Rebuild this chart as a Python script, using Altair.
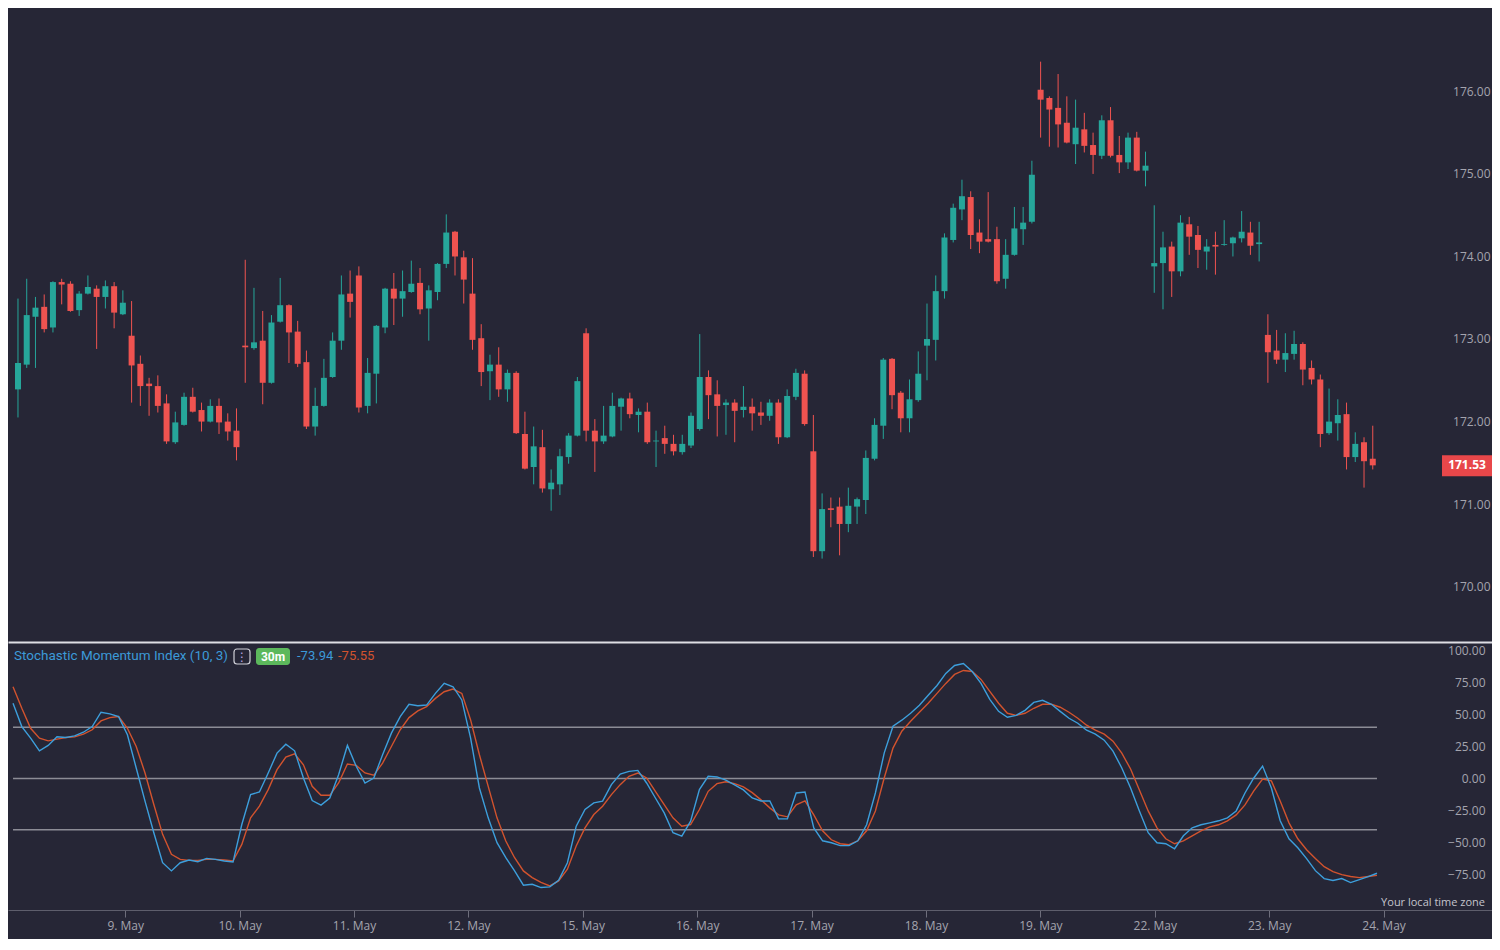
import altair as alt
import pandas as pd

# ---- candle data (30m bars) ----
open_ = [172.45,172.75,173.33,173.45,173.20,173.75,173.73,173.41,173.61,173.67,
         173.57,173.70,173.36,173.10,172.76,172.52,172.49,172.28,171.81,172.02,
         172.36,172.20,172.06,172.25,172.06,171.95,172.98,172.95,173.04,172.53,
         173.27,173.47,173.15,172.78,172.00,172.25,172.60,173.04,173.61,173.83,
         172.25,172.64,173.20,173.67,173.55,173.63,173.74,173.43,173.63,173.97,
         174.36,174.05,173.61,173.07,172.67,172.75,172.45,172.65,171.91,171.51,
         171.75,171.24,171.30,171.63,171.89,173.13,171.95,171.82,171.88,172.24,
         172.34,172.14,172.18,171.82,171.86,171.79,171.69,171.77,171.97,172.60,
         172.39,172.26,172.29,172.20,172.24,172.17,172.13,172.29,171.87,172.36,
         172.64,171.70,170.49,171.01,171.03,170.82,171.03,171.11,171.61,172.01,
         172.82,172.41,172.10,172.32,172.98,173.05,173.64,174.26,174.63,174.78,
         174.35,174.27,174.27,173.79,174.08,174.39,174.48,176.08,175.98,175.86,
         175.68,175.42,175.60,175.41,175.28,175.71,175.29,175.20,175.50,175.10,
         173.94,173.98,174.18,173.88,174.45,174.32,174.12,174.20,174.20,174.22,
         174.28,174.35,174.21,173.11,172.92,172.81,172.88,173.00,172.71,172.57,
         171.92,172.04,172.15,171.63,171.81,171.61]
high = [173.55,173.79,173.57,173.60,173.76,173.79,173.76,173.64,173.83,173.71,
        173.77,173.75,173.65,173.52,172.86,172.59,172.62,172.39,172.18,172.41,
        172.47,172.29,172.33,172.34,172.16,172.22,174.02,173.68,173.40,173.35,
        173.80,173.48,173.28,172.92,172.47,172.82,173.14,173.83,173.89,173.94,
        172.83,173.23,173.68,173.86,173.89,174.01,173.92,173.71,173.98,174.57,
        174.37,174.13,174.04,173.24,172.87,172.96,172.69,172.67,172.18,172.00,
        171.96,171.48,171.73,171.92,172.60,173.19,172.09,172.25,172.41,172.35,
        172.41,172.22,172.29,171.95,172.01,171.90,171.90,172.17,173.12,172.68,
        172.56,172.33,172.33,172.49,172.34,172.30,172.33,172.33,172.45,172.70,
        172.68,172.14,171.19,171.14,171.14,171.26,171.14,171.71,172.10,172.83,
        172.83,172.43,172.57,172.91,173.49,173.83,174.34,174.70,174.99,174.85,
        174.51,174.84,174.42,174.27,174.66,174.66,175.22,176.42,176.00,176.27,
        176.00,175.96,175.80,175.56,175.77,175.87,175.52,175.56,175.57,175.33,
        174.68,174.36,174.24,174.56,174.54,174.43,174.27,174.36,174.50,174.30,
        174.61,174.48,174.48,173.36,173.17,173.13,173.16,173.02,172.80,172.63,
        172.46,172.33,172.29,171.93,171.87,172.01]
low = [172.11,172.71,172.71,173.14,173.14,173.48,173.39,173.34,173.60,172.94,
       173.43,173.19,173.35,172.29,172.25,172.13,172.17,171.79,171.79,172.01,
       172.17,171.94,172.05,171.91,171.83,171.59,172.53,172.93,172.27,172.52,
       173.26,172.77,172.72,171.97,171.89,172.24,172.59,172.93,173.32,172.17,
       172.16,172.28,173.13,173.23,173.33,173.62,173.36,173.04,173.53,173.92,
       173.83,173.49,172.93,172.49,172.32,172.36,172.30,171.91,171.48,171.30,
       171.20,170.98,171.17,171.55,171.88,171.82,171.45,171.79,171.87,171.95,
       172.10,171.93,171.79,171.51,171.67,171.65,171.66,171.74,171.95,172.09,
       171.88,171.90,171.81,172.11,171.95,172.02,172.07,171.79,171.86,172.32,
       172.01,170.42,170.40,170.78,170.44,170.72,170.82,170.94,171.59,171.85,
       172.21,171.93,171.93,172.30,172.56,172.80,173.55,174.23,174.50,174.15,
       174.10,174.23,173.73,173.67,174.07,174.20,174.46,175.50,175.39,175.38,
       175.43,175.18,175.32,175.06,175.24,175.26,175.07,175.12,175.09,174.91,
       173.62,173.42,173.57,173.82,174.08,173.92,173.90,173.84,174.19,174.06,
       174.23,174.08,174.00,172.53,172.76,172.66,172.81,172.50,172.51,171.75,
       171.90,171.83,171.48,171.57,171.26,171.48]
close = [172.77,173.35,173.44,173.18,173.75,173.72,173.40,173.61,173.69,173.57,
         173.70,173.38,173.50,172.74,172.49,172.49,172.25,171.82,172.05,172.36,
         172.18,172.06,172.25,172.05,171.94,171.75,172.96,173.02,172.53,173.26,
         173.47,173.14,172.76,172.00,172.25,172.59,173.04,173.60,173.51,172.23,
         172.65,173.22,173.67,173.55,173.64,173.73,173.42,173.65,173.97,174.35,
         174.06,173.78,173.05,172.66,172.75,172.45,172.65,171.92,171.49,171.76,
         171.25,171.32,171.64,171.89,172.55,171.95,171.82,171.89,172.25,172.34,
         172.15,172.18,171.81,171.83,171.79,171.70,171.79,172.13,172.60,172.38,
         172.25,172.29,172.19,172.24,172.16,172.13,172.29,171.87,172.37,172.65,
         172.03,170.49,171.00,170.99,170.82,171.04,171.12,171.62,172.02,172.81,
         172.38,172.10,172.33,172.64,173.06,173.64,174.29,174.65,174.79,174.32,
         174.24,174.24,173.76,174.08,174.40,174.47,175.05,175.96,175.84,175.66,
         175.44,175.62,175.40,175.29,175.71,175.28,175.20,175.50,175.10,175.16,
         173.98,174.17,173.88,174.47,174.30,174.14,174.18,174.18,174.21,174.29,
         174.36,174.19,174.23,172.90,172.81,172.89,173.00,172.69,172.57,171.91,
         172.06,172.14,171.63,171.79,171.58,171.53]

# ---- Stochastic Momentum Index (10, 3) ----
smi = [58.7,40.5,31.5,21.6,25.8,32.5,32.0,33.3,36.1,40.5,
       51.7,50.4,48.3,34.1,8.2,-17.7,-42.3,-65.7,-72.1,-65.7,
       -63.6,-64.9,-62.3,-63.1,-64.4,-65.2,-35.9,-12.6,-10.5,4.3,
       19.8,26.8,21.6,0.4,-17.2,-20.8,-15.2,3.0,25.8,9.5,
       -3.5,0.4,18.5,35.4,48.3,57.9,56.8,57.3,66.4,74.2,
       71.6,61.3,31.5,-7.4,-30.7,-50.1,-61.8,-72.1,-83.2,-82.5,
       -85.1,-84.6,-79.4,-65.7,-37.2,-24.2,-19.0,-17.7,-4.8,3.5,
       5.6,6.3,-3.5,-15.2,-26.8,-42.3,-44.9,-33.3,-8.7,1.7,
       1.2,-1.2,-5.0,-8.9,-15.2,-17.5,-17.5,-31.5,-31.5,-11.3,
       -10.5,-38.5,-48.6,-50.1,-52.4,-52.4,-48.6,-36.1,-11.3,19.8,
       40.8,45.5,50.9,57.1,64.9,72.6,82.0,88.2,89.7,83.5,
       74.2,61.8,52.4,47.8,49.3,53.2,59.4,61.0,57.9,52.4,
       47.0,43.1,37.7,34.6,29.9,21.4,8.2,-7.4,-25.3,-42.3,
       -50.1,-50.9,-54.8,-44.7,-38.5,-36.1,-34.6,-33.0,-30.7,-25.3,
       -11.3,0.4,9.7,-7.4,-33.0,-47.0,-54.0,-62.5,-71.9,-78.1,
       -79.6,-78.1,-81.2,-78.9,-76.5,-73.94]
signal = [71.6,54.8,39.2,31.5,29.4,30.7,32.0,32.5,34.6,38.0,
          44.9,47.5,48.3,39.2,25.0,4.3,-20.3,-43.6,-59.2,-63.1,
          -63.9,-63.9,-63.1,-63.1,-63.6,-64.4,-51.4,-30.7,-21.6,-8.7,
          6.9,16.7,19.3,10.7,-6.1,-13.1,-13.1,-3.5,11.3,10.2,
          4.3,2.5,12.0,25.0,38.0,47.5,52.7,56.1,62.5,67.7,
          69.8,66.4,45.7,18.5,-6.1,-30.7,-48.8,-61.8,-72.1,-77.3,
          -81.1,-83.8,-79.9,-70.8,-52.7,-38.5,-28.1,-21.6,-12.6,-4.8,
          1.7,4.3,0.4,-10.0,-20.3,-30.7,-37.2,-35.9,-24.2,-10.0,
          -4.0,-2.5,-4.0,-6.5,-11.0,-16.7,-22.9,-28.4,-29.9,-20.6,
          -17.5,-28.4,-40.8,-47.8,-50.9,-51.7,-48.6,-40.8,-25.3,0.4,
          23.7,36.9,44.7,51.7,58.7,66.4,74.2,81.2,84.3,83.5,
          77.3,68.0,58.7,50.9,49.3,50.9,54.8,57.9,57.9,55.6,
          51.7,47.0,41.6,37.7,34.6,29.1,19.8,7.4,-8.9,-25.3,
          -38.5,-47.0,-50.9,-48.6,-44.7,-40.8,-37.7,-36.1,-33.0,-28.4,
          -20.6,-9.7,-0.4,-1.9,-17.5,-34.6,-47.0,-55.6,-62.5,-68.8,
          -72.6,-75.0,-76.5,-77.3,-76.5,-75.55]

day_labels = ["9. May", "10. May", "11. May", "12. May", "15. May", "16. May",
              "17. May", "18. May", "19. May", "22. May", "23. May", "24. May"]
bars_per_day = 13
price_ticks = [170, 171, 172, 173, 174, 175, 176]
smi_ticks = [-75, -50, -25, 0, 25, 50, 75, 100]
smi_levels = [40, 0, -40]

# ---- styling ----
BG = "#262636"
UP = "#26a69a"
DOWN = "#ef5350"
BLUE = "#3d9fdc"
RED = "#d2532e"
LBL = "#a4a4ae"
W = 1484
H1 = 634
H2 = 268
X_DOM = [-0.57, 168.07]
P_DOM = [169.39, 177.07]
S_DOM = [-102.6, 106.5]

n = len(close)
candles = pd.DataFrame({
    "idx": list(range(n)), "open": open_, "high": high, "low": low, "close": close,
})
candles["dir"] = ["up" if c >= o else "down" for o, c in zip(open_, close)]

color = alt.Color("dir:N", scale=alt.Scale(domain=["up", "down"], range=[UP, DOWN]), legend=None)

x_price = alt.X("idx:Q", scale=alt.Scale(domain=X_DOM, nice=False, zero=False),
                axis=alt.Axis(labels=False, ticks=False, grid=False, domain=True,
                              domainColor="#dedee4", domainWidth=2, title=None))
y_price_axis = alt.Axis(values=price_ticks, format=".2f", orient="right", labelAlign="right",
                        labelPadding=-2, labelOffset=-5, ticks=False, domain=False, grid=False,
                        title=None, labelColor=LBL, labelFontSize=12, labelFont="Open Sans")
p_scale = alt.Scale(domain=P_DOM, nice=False, zero=False)

base = alt.Chart(candles)
wicks = base.mark_rule(strokeWidth=1).encode(
    x=x_price,
    y=alt.Y("low:Q", scale=p_scale, axis=y_price_axis),
    y2="high:Q",
    color=color,
)
bodies = base.mark_bar(size=6).encode(
    x=x_price,
    y=alt.Y("open:Q", scale=p_scale, axis=y_price_axis),
    y2="close:Q",
    color=color,
)

last = pd.DataFrame({"close": [close[-1]], "txt": [f"{close[-1]:.2f}"]})
tag_box = alt.Chart(last).mark_rect(color="#e8474a", yOffset=-10, y2Offset=11).encode(
    x=alt.value(W - 50), x2=alt.value(W),
    y=alt.Y("close:Q", scale=p_scale, axis=y_price_axis), y2="close:Q",
)
tag_txt = alt.Chart(last).mark_text(color="white", fontSize=12, font="Open Sans",
                                    fontWeight="bold", align="center", baseline="middle").encode(
    x=alt.value(W - 25),
    y=alt.Y("close:Q", scale=p_scale, axis=y_price_axis),
    text="txt:N",
)

price = alt.layer(wicks, bodies, tag_box, tag_txt).properties(width=W, height=H1)

# ---- SMI panel ----
tick_vals = [k * bars_per_day - 0.25 for k in range(1, len(day_labels) + 1)]
lbl_js = "[" + ",".join(f"'{d}'" for d in day_labels) + "]"
x_smi = alt.X("idx:Q", scale=alt.Scale(domain=X_DOM, nice=False, zero=False),
              axis=alt.Axis(values=tick_vals, labelExpr=f"{lbl_js}[round((datum.value + 0.25) / {bars_per_day}) - 1]",
                            grid=False, domain=True, domainColor="#5e5e6c", domainWidth=1,
                            ticks=True, tickColor="#6e6e7c", tickSize=7, labelPadding=3,
                            labelColor=LBL, labelFontSize=12, labelFont="Open Sans", title=None))
s_scale = alt.Scale(domain=S_DOM, nice=False, zero=False)
y_smi_axis = alt.Axis(values=smi_ticks, format=".2f", orient="right", labelAlign="right",
                      labelPadding=-7, ticks=False, domain=False, grid=False, title=None,
                      labelColor=LBL, labelFontSize=12, labelFont="Open Sans")

ind = pd.DataFrame({"idx": list(range(n)), "smi": smi, "signal": signal})
levels = pd.DataFrame({"level": smi_levels, "x0": [0] * len(smi_levels),
                       "x1": [n - 1] * len(smi_levels)})

lvl = alt.Chart(levels).mark_rule(color="#8c8c96", strokeWidth=1.5).encode(
    x=x_smi, x2="x1:Q", y=alt.Y("level:Q", scale=s_scale, axis=y_smi_axis),
).transform_calculate(idx="datum.x0")
sig_line = alt.Chart(ind).mark_line(color=RED, strokeWidth=1.4).encode(
    x=x_smi, y=alt.Y("signal:Q", scale=s_scale, axis=y_smi_axis))
smi_line = alt.Chart(ind).mark_line(color=BLUE, strokeWidth=1.4).encode(
    x=x_smi, y=alt.Y("smi:Q", scale=s_scale, axis=y_smi_axis))

one = pd.DataFrame({"a": [0]})
title_t = alt.Chart(one).mark_text(text="Stochastic Momentum Index (10, 3)", align="left",
                                   baseline="middle", font="Roboto", fontSize=13.5, color="#3c9ad8").encode(
    x=alt.value(6), y=alt.value(14))
icon_box = alt.Chart(one).mark_rect(fill=BG, stroke="#d0d0d8", strokeWidth=1.2, cornerRadius=3).encode(
    x=alt.value(226), x2=alt.value(242), y=alt.value(7), y2=alt.value(22))
icon_dots = alt.Chart(one).mark_text(text="⋮", align="center", baseline="middle", fontSize=12,
                                     color="#b9a9e0", font="DejaVu Sans").encode(
    x=alt.value(234), y=alt.value(14.5))
badge = alt.Chart(one).mark_rect(color="#5cb85c", cornerRadius=3).encode(
    x=alt.value(248), x2=alt.value(282), y=alt.value(6), y2=alt.value(23))
badge_t = alt.Chart(one).mark_text(text="30m", align="center", baseline="middle", font="Roboto",
                                   fontSize=12, fontWeight="bold", color="white").encode(
    x=alt.value(265), y=alt.value(14.5))
val1 = alt.Chart(one).mark_text(text=f"{smi[-1]:.2f}", align="left", baseline="middle", font="Roboto",
                                fontSize=13, color="#3c9ad8").encode(x=alt.value(289), y=alt.value(14))
val2 = alt.Chart(one).mark_text(text=f"{signal[-1]:.2f}", align="left", baseline="middle", font="Roboto",
                                fontSize=13, color=RED).encode(x=alt.value(330), y=alt.value(14))
tz = alt.Chart(one).mark_text(text="Your local time zone", align="right", baseline="middle",
                              font="Open Sans", fontSize=11, color="#c4c4cc").encode(
    x=alt.value(W - 7), y=alt.value(H2 - 7))

smi_panel = alt.layer(lvl, sig_line, smi_line, title_t, icon_box, icon_dots, badge, badge_t,
                      val1, val2, tz).properties(width=W, height=H2)

chart = alt.vconcat(price, smi_panel, spacing=0).properties(
    padding={"left": 0, "top": 0, "right": 0, "bottom": 8}, background=BG
).configure_view(stroke=None).configure_concat(spacing=0)

chart.save("out.html", embed_options={"renderer": "svg", "actions": False})
